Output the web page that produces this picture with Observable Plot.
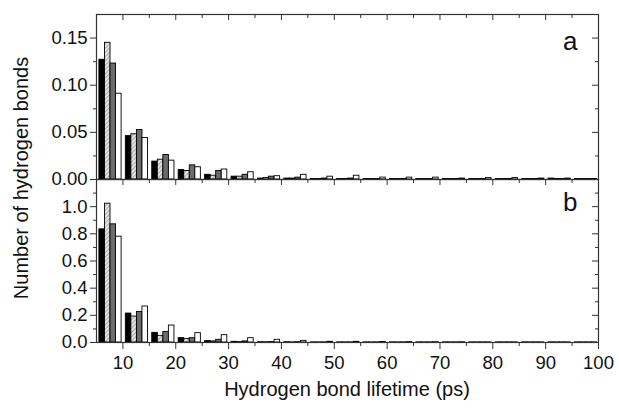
<!DOCTYPE html>
<html><head><meta charset="utf-8">
<script src="https://cdn.jsdelivr.net/npm/d3@7"></script>
<script src="https://cdn.jsdelivr.net/npm/@observablehq/plot@0.6"></script>
<style>
body{margin:0;background:#fff;font-family:"Liberation Sans",Arial,sans-serif;}
#wrap{position:relative;width:619px;height:410px;overflow:hidden;}
#wrap svg{position:absolute;left:0;overflow:visible;background:transparent;}
#ylab{position:absolute;left:21px;top:178px;transform:translate(-50%,-50%) rotate(-90deg);white-space:nowrap;font-size:20px;line-height:20px;color:#111;}
#xlab{position:absolute;left:347px;top:389px;transform:translate(-50%,-50%);white-space:nowrap;font-size:20px;line-height:20px;color:#111;}
</style></head><body><div id="wrap"><div id="ylab">Number of hydrogen bonds</div><div id="xlab">Hydrogen bond lifetime (ps)</div></div>
<script>
// bin start (ps) of each group of four bars
const binStart = [5,10,15,20,25,30,35,40,45,50,55,60,65,70,75,80,85,90,95];
const seriesNames = ["black","hatched","gray","white"];
const xMajor = [10,20,30,40,50,60,70,80,90,100];
const xMinor = [15,25,35,45,55,65,75,85,95];

// panel a
const aBlack   = [0.127,0.046,0.019,0.010,0.005,0.003,0.001,0.001,0.0005,0.0005,0.0005,0.0005,0.0005,0.0005,0.0005,0.0005,0.0005,0.001,0.0005];
const aHatched = [0.145,0.048,0.021,0.009,0.004,0.003,0.0015,0.001,0.0005,0.0005,0.0005,0.0005,0.0005,0.0005,0.0005,0.0005,0.0005,0.0005,0.0005];
const aGray    = [0.123,0.0525,0.026,0.015,0.009,0.005,0.003,0.002,0.001,0.001,0.0005,0.0005,0.0005,0.0005,0.0005,0.0005,0.0005,0.0005,0.0005];
const aWhite   = [0.091,0.044,0.020,0.013,0.0106,0.0077,0.0035,0.005,0.003,0.004,0.002,0.002,0.002,0.001,0.0015,0.0015,0.001,0.001,0.0005];
const aMajor = [0,0.05,0.10,0.15];
const aMinor = [0.025,0.075,0.125];

// panel b
const bBlack   = [0.833,0.213,0.071,0.032,0.010,0.005,0.002,0.002,0.001,0.001,0.001,0.001,0.001,0.001,0.001,0.001,0.001,0.001,0.001];
const bHatched = [1.022,0.191,0.049,0.025,0.008,0.003,0.002,0.001,0.001,0.001,0.001,0.001,0.001,0.001,0.001,0.001,0.001,0.001,0.001];
const bGray    = [0.870,0.225,0.078,0.032,0.020,0.008,0.003,0.002,0.001,0.001,0.001,0.001,0.001,0.001,0.001,0.001,0.001,0.001,0.001];
const bWhite   = [0.779,0.265,0.125,0.069,0.054,0.032,0.020,0.012,0.005,0.005,0.004,0.003,0.002,0.002,0.001,0.001,0.001,0.001,0.001];
const bMajor = [0,0.2,0.4,0.6,0.8,1.0];
const bMinor = [0.1,0.3,0.5,0.7,0.9,1.1];

const W = 619, ML = 96, MR = 21;
const innerW = W - ML - MR;
const font = "Liberation Sans, Arial, sans-serif";

function rows(lists){
  const out = [];
  lists.forEach((vals, i) => vals.forEach((v, j) => {
    const x1 = binStart[j] + 0.55 + i * 1.05;
    out.push({series: seriesNames[i], x1, x2: x1 + 1.05, value: v});
  }));
  return out;
}

function addHatch(svg, id){
  const defs = d3.select(svg).insert("defs", ":first-child");
  const p = defs.append("pattern").attr("id", id).attr("patternUnits","userSpaceOnUse")
    .attr("width",3).attr("height",3).attr("patternTransform","rotate(45)");
  p.append("rect").attr("width",3).attr("height",3).attr("fill","#e4e4e4");
  p.append("line").attr("x1",0).attr("y1",0).attr("x2",0).attr("y2",3).attr("stroke","#8a8a8a").attr("stroke-width",1.3);
}

function panel({data, yMax, major, minor, fmt, hatchId, letter, letterDy, height, mt, mb, showX}){
  const innerH = height - mt - mb;
  const marks = [
    Plot.rect(data, {x1:"x1", x2:"x2", y1:0, y2:"value", fill:"series", stroke:"#000", strokeWidth:0.9}),
    Plot.frame({stroke:"#333", strokeWidth:1.2}),
    Plot.axisY({ticks: major, tickSize: 6, tickFormat: fmt, fontSize: 18.5, tickPadding: 3, stroke:"#333", fill:"#111", label: null}),
    Plot.axisY({ticks: minor, tickSize: 3, tickFormat: () => "", stroke:"#333", label: null}),
    Plot.tickY(major, {y: d => d, insetLeft: innerW - 6, stroke:"#333"}),
    Plot.tickY(minor, {y: d => d, insetLeft: innerW - 3, stroke:"#333"}),
    Plot.tickX(xMajor, {x: d => d, insetBottom: innerH - 6, stroke:"#333"}),
    Plot.tickX(xMinor, {x: d => d, insetBottom: innerH - 4, stroke:"#333"}),
    Plot.text([letter], {frameAnchor:"top-right", dx:-21, dy:letterDy, fontSize:26, fill:"#111"})
  ];
  if (showX) {
    marks.push(
      Plot.axisX({ticks: xMajor, tickSize: 7, tickFormat: d => d, fontSize: 18.5, tickPadding: 6, stroke:"#333", fill:"#111", label: null}),
      Plot.axisX({ticks: xMinor, tickSize: 4, tickFormat: () => "", stroke:"#333", label: null})
    );
  }
  const svg = Plot.plot({
    width: W, height, marginLeft: ML, marginRight: MR, marginTop: mt, marginBottom: mb,
    style: {fontFamily: font, background: "transparent", overflow: "visible"},
    x: {domain: [5, 100], axis: null},
    y: {domain: [0, yMax], axis: null},
    color: {domain: seriesNames, range: ["#000000", `url(#${hatchId})`, "#6c6c6c", "#ffffff"]},
    marks
  });
  addHatch(svg, hatchId);
  return svg;
}

const wrap = document.getElementById("wrap");
const topPanel = panel({data: rows([aBlack,aHatched,aGray,aWhite]), yMax: 0.175, major: aMajor, minor: aMinor,
  fmt: d3.format(".2f"), hatchId: "hatchA", letter: "a", letterDy: 17, height: 179, mt: 14, mb: 0, showX: false});
topPanel.style.top = "0px";
wrap.appendChild(topPanel);
const botPanel = panel({data: rows([bBlack,bHatched,bGray,bWhite]), yMax: 1.2, major: bMajor, minor: bMinor,
  fmt: d3.format(".1f"), hatchId: "hatchB", letter: "b", letterDy: 13, height: 231, mt: 0, mb: 68, showX: true});
botPanel.style.top = "179px";
wrap.appendChild(botPanel);
</script></body></html>
